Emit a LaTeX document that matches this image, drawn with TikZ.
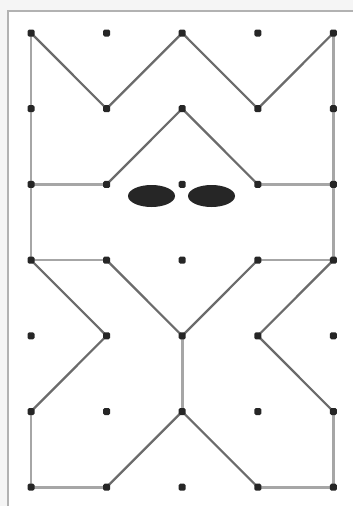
\documentclass[tikz,border=0pt]{standalone}
\begin{document}
\begin{tikzpicture}[x=1pt,y=-1pt,
  dotpt/.style={rectangle,rounded corners=1.5pt,fill=black!85,inner sep=0pt,minimum size=7pt},
  diagline/.style={draw=black!58,line width=2.2pt},
  axline/.style={draw=black!35,line width=2.6pt},
  frameline/.style={draw=black!30,line width=2.2pt},
  eye/.style={fill=black!85}]
\useasboundingbox (0,0) rectangle (353,506);
\fill[black!4] (0,0) rectangle (353,506);
\fill[white] (8,11) rectangle (353,506);
\draw[frameline] (8,506) -- (8,11) -- (353,11);
% grid points
\foreach \i in {0,...,4}{
  \foreach \j in {0,...,6}{
    \coordinate (g\i\j) at ({31+75.6*\i},{33+75.7*\j});
  }
}
% axis-parallel lines
\draw[axline] (g00) -- (g03);
\draw[axline] (g40) -- (g43);
\draw[axline] (g02) -- (g12);
\draw[axline] (g32) -- (g42);
\draw[axline] (g03) -- (g13);
\draw[axline] (g33) -- (g43);
\draw[axline] (g05) -- (g06) -- (g16);
\draw[axline] (g36) -- (g46) -- (g45);
\draw[axline] (g24) -- (g25);
% diagonal lines
\draw[diagline] (g00) -- (g11) -- (g20) -- (g31) -- (g40);
\draw[diagline] (g12) -- (g21) -- (g32);
\draw[diagline] (g03) -- (g14) -- (g05);
\draw[diagline] (g13) -- (g24) -- (g33);
\draw[diagline] (g43) -- (g34) -- (g45);
\draw[diagline] (g16) -- (g25) -- (g36);
% dots
\foreach \i in {0,...,4}{
  \foreach \j in {0,...,6}{
    \node[dotpt] (d\i\j) at (g\i\j) {};
  }
}
% eyes
\fill[eye] (151.5,196) ellipse [x radius=23.5, y radius=11];
\fill[eye] (211.5,196) ellipse [x radius=23.5, y radius=11];
\end{tikzpicture}
\end{document}
